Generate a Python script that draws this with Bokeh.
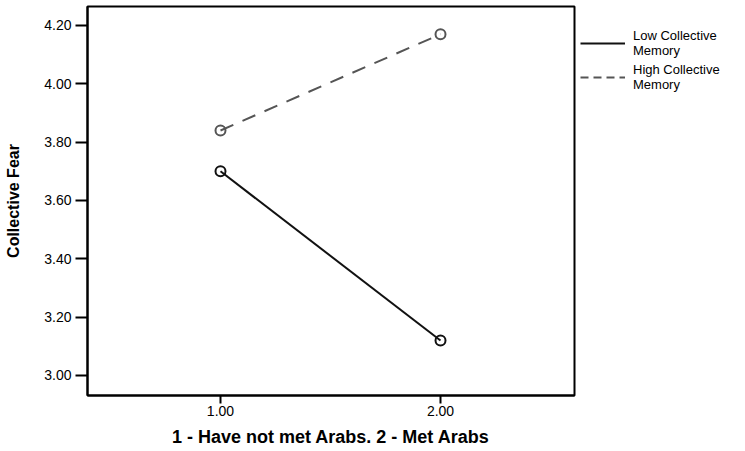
from bokeh.plotting import figure
from bokeh.layouts import row
from bokeh.models import Range1d, FixedTicker, Legend, LegendItem, NumeralTickFormatter
from bokeh.embed import file_html
from bokeh.resources import INLINE

# ---- data ----
groups = [1.0, 2.0]
low_memory = [3.70, 3.12]
high_memory = [3.84, 4.17]
series_names = ["Low Collective\nMemory", "High Collective\nMemory"]
y_ticks = [3.0, 3.2, 3.4, 3.6, 3.8, 4.0, 4.2]
y_tick_labels = ["3.00", "3.20", "3.40", "3.60", "3.80", "4.00", "4.20"]
x_ticks = [1.0, 2.0]
x_tick_labels = ["1.00", "2.00"]
x_title = "1 - Have not met Arabs. 2 - Met Arabs"
y_title = "Collective Fear"

FONT = "Liberation Sans"
LOW_COLOR = "#111111"
HIGH_COLOR = "#555555"

p = figure(width=576, height=451, output_backend="svg", toolbar_location=None,
           x_range=Range1d(0.3955, 2.609), y_range=Range1d(2.9314, 4.2651),
           min_border_left=87, min_border_right=2, min_border_top=6, min_border_bottom=56)

p.grid.visible = False
p.outline_line_color = "black"
p.outline_line_width = 2
p.background_fill_color = "white"
p.border_fill_color = "white"

for ax in (p.xaxis[0], p.yaxis[0]):
    ax.axis_line_color = "black"
    ax.axis_line_width = 2
    ax.major_tick_line_color = "black"
    ax.major_tick_line_width = 2
    ax.major_tick_in = 0
    ax.minor_tick_line_color = None
    ax.major_label_text_font = FONT
    ax.major_label_text_font_size = "14px"
    ax.major_label_text_color = "black"
    ax.axis_label_text_font = FONT
    ax.axis_label_text_font_style = "bold"
    ax.axis_label_text_color = "black"

p.xaxis.ticker = FixedTicker(ticks=x_ticks)
p.xaxis.formatter = NumeralTickFormatter(format="0.00")
p.xaxis.major_label_overrides = dict(zip(x_ticks, x_tick_labels))
p.xaxis.major_tick_out = 8
p.xaxis.major_label_standoff = 2
p.xaxis.axis_label = x_title
p.xaxis.axis_label_text_font_size = "18px"
p.xaxis.axis_label_standoff = 8

p.yaxis.ticker = FixedTicker(ticks=y_ticks)
p.yaxis.formatter = NumeralTickFormatter(format="0.00")
p.yaxis.major_label_overrides = dict(zip(y_ticks, y_tick_labels))
p.yaxis.major_tick_out = 12
p.yaxis.major_label_standoff = 4
p.yaxis.axis_label = y_title
p.yaxis.axis_label_text_font_size = "16px"
p.yaxis.axis_label_standoff = 19

p.line(groups, low_memory, line_color=LOW_COLOR, line_width=2)
p.scatter(groups, low_memory, marker="circle", size=10, fill_color=None,
          line_color=LOW_COLOR, line_width=2)
p.line(groups, high_memory, line_color=HIGH_COLOR, line_width=2, line_dash="14 10")
p.scatter(groups, high_memory, marker="circle", size=10, fill_color=None,
          line_color=HIGH_COLOR, line_width=2)

# ---- legend panel (separate figure to the right of the plot) ----
lg = figure(width=169, height=451, output_backend="svg", toolbar_location=None,
            x_range=Range1d(10, 11), y_range=Range1d(10, 11),
            x_axis_location=None, y_axis_location=None,
            min_border_left=0, min_border_right=0, min_border_top=6, min_border_bottom=56,
            outline_line_color=None)
lg.grid.visible = False
lg_low = lg.line(groups, low_memory, line_color=LOW_COLOR, line_width=2)
lg_high = lg.line(groups, high_memory, line_color=HIGH_COLOR, line_width=2, line_dash="8 5")

legend = Legend(items=[LegendItem(label=series_names[0], renderers=[lg_low]),
                       LegendItem(label=series_names[1], renderers=[lg_high])],
                location=(0, 299), margin=0, padding=4, spacing=4,
                glyph_width=45, glyph_height=20, label_standoff=8,
                label_text_font=FONT, label_text_font_size="13px",
                label_text_line_height=1.0, label_text_color="black",
                border_line_alpha=0, background_fill_alpha=0)
lg.add_layout(legend, "center")

layout = row(p, lg, spacing=0)
open("out.html", "w").write(file_html(layout, INLINE))
